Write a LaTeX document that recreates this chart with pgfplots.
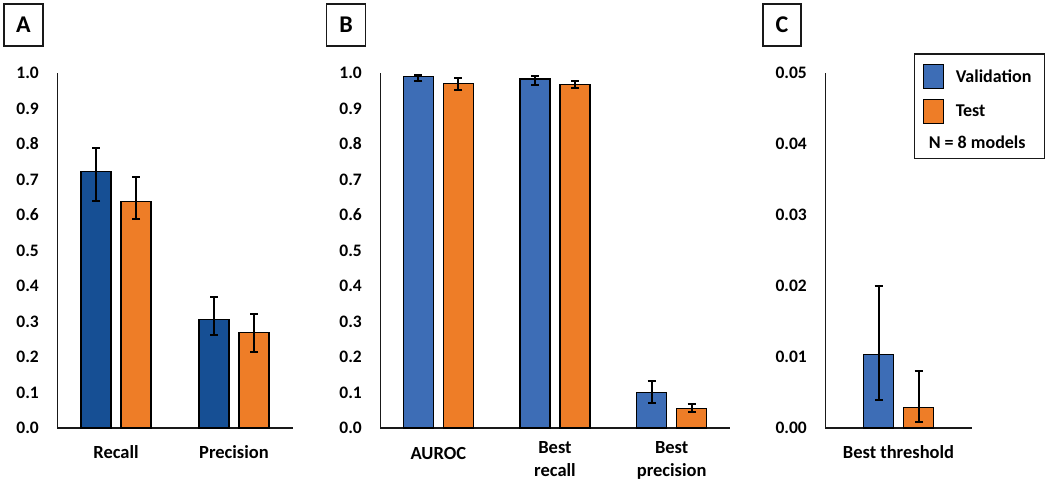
\documentclass[border=0pt]{standalone}
\usepackage{fontspec}
\setmainfont{Carlito}
\usepackage{pgfplots}
\pgfplotsset{compat=1.18}
\definecolor{blueA}{HTML}{164F94}
\definecolor{blueB}{HTML}{3D6DB6}
\definecolor{orangeT}{HTML}{EE7D27}
\pgfplotsset{
  panel/.style={
    scale only axis, anchor=south west, clip=false,
    axis lines=left, axis line style={-, black!90},
    x axis line style={line width=1.5pt}, y axis line style={line width=1pt},
    major tick length=0pt,
    ymin=0,
    ybar, bar width=30pt,
    /pgf/number format/assume math mode=true,
    tick label style={font=\bfseries\fontsize{17.5}{20}\selectfont},
    yticklabel style={anchor=east, inner sep=0pt, xshift=-18pt},
    xticklabel style={inner sep=0pt, align=center, font=\bfseries\fontsize{18.5}{23}\selectfont},
    xtick=data,
    error bars/y dir=both, error bars/y explicit,
  },
  barstyle/.style={draw=black, line width=1.2pt,
    error bars/error bar style={line width=2pt, black},
    error bars/error mark options={line width=2pt, black, mark size=4pt, rotate=90}},
}
\begin{document}
\begin{tikzpicture}
\useasboundingbox (0pt,0pt) rectangle (1050pt,483pt);
\coordinate (pA) at (57pt,55pt);
\coordinate (pB) at (380pt,55pt);
\coordinate (pC) at (825pt,55pt);
% Panel A
\begin{axis}[panel, at={(pA)}, width=236pt, height=355pt,
  xmin=-0.5, xmax=1.5, ymax=1,
  ytick={0,0.1,0.2,0.3,0.4,0.5,0.6,0.7,0.8,0.9,1.0},
  yticklabel style={/pgf/number format/fixed, /pgf/number format/fixed zerofill, /pgf/number format/precision=1},
  xticklabel style={anchor=base, yshift=-30pt},
  xticklabels={Recall, Precision}]
\addplot[barstyle, fill=blueA, bar shift=-20pt] coordinates {
  (0,0.722) += (0,0.066) -= (0,0.082)
  (1,0.306) += (0,0.064) -= (0,0.044)
};
\addplot[barstyle, fill=orangeT, bar shift=20pt] coordinates {
  (0,0.639) += (0,0.067) -= (0,0.050)
  (1,0.268) += (0,0.053) -= (0,0.055)
};
\end{axis}
% Panel B
\begin{axis}[panel, at={(pB)}, width=350pt, height=355pt,
  xmin=-0.5, xmax=2.5, ymax=1,
  ytick={0,0.1,0.2,0.3,0.4,0.5,0.6,0.7,0.8,0.9,1.0},
  yticklabel style={/pgf/number format/fixed, /pgf/number format/fixed zerofill, /pgf/number format/precision=1},
  xticklabel style={anchor=north, yshift=-13.5pt},
  xticklabels={\rule{0pt}{17.5pt}AUROC, Best\\recall, Best\\precision}]
\addplot[barstyle, fill=blueB, bar shift=-20pt] coordinates {
  (0,0.990) += (0,0.005) -= (0,0.013)
  (1,0.983) += (0,0.008) -= (0,0.017)
  (2,0.100) += (0,0.033) -= (0,0.029)
};
\addplot[barstyle, fill=orangeT, bar shift=20pt] coordinates {
  (0,0.971) += (0,0.015) -= (0,0.019)
  (1,0.967) += (0,0.010) -= (0,0.009)
  (2,0.056) += (0,0.012) -= (0,0.010)
};
\end{axis}
% Panel C
\begin{axis}[panel, at={(pC)}, width=147pt, height=355pt,
  xmin=-0.5, xmax=0.5, ymax=0.05,
  ytick={0,0.01,0.02,0.03,0.04,0.05},
  scaled y ticks=false,
  yticklabel style={/pgf/number format/fixed, /pgf/number format/fixed zerofill, /pgf/number format/precision=2},
  xticklabel style={anchor=base, yshift=-30pt},
  xticklabels={Best threshold},
  legend cell align=left,
  legend style={at={(1.4966,1.0555)}, anchor=north east, draw=black!90, line width=1.2pt,
    font=\bfseries\fontsize{18}{21}\selectfont, inner xsep=8pt, inner ysep=10pt,
    row sep=10pt, column sep=10pt}]
\addplot[barstyle, fill=blueB, bar shift=-20pt,
  legend image code/.code={\draw[fill=blueB, draw=black, line width=1.2pt] (0pt,-12pt) rectangle (20pt,12pt);}]
  coordinates {
  (0,0.0104) += (0,0.0096) -= (0,0.0065)
};
\addlegendentry{Validation\hspace*{3pt}}
\addplot[barstyle, fill=orangeT, bar shift=20pt,
  legend image code/.code={\draw[fill=orangeT, draw=black, line width=1.2pt] (0pt,-12pt) rectangle (20pt,12pt);}]
  coordinates {
  (0,0.0029) += (0,0.0051) -= (0,0.0021)
};
\addlegendentry{Test}
\addlegendimage{empty legend}
\addlegendentry{\hspace*{-27pt}\raisebox{-4pt}{N = 8 models}}
\end{axis}
% panel letters
\node[draw=black!90, line width=1.2pt, minimum width=39pt, minimum height=42pt, inner sep=0pt,
  font=\bfseries\fontsize{24}{26}\selectfont] at (23.5pt,458pt) {A};
\node[draw=black!90, line width=1.2pt, minimum width=39pt, minimum height=42pt, inner sep=0pt,
  font=\bfseries\fontsize{24}{26}\selectfont] at (346pt,458pt) {B};
\node[draw=black!90, line width=1.2pt, minimum width=38pt, minimum height=42pt, inner sep=0pt,
  font=\bfseries\fontsize{24}{26}\selectfont] at (782pt,458pt) {C};
\end{tikzpicture}
\end{document}
